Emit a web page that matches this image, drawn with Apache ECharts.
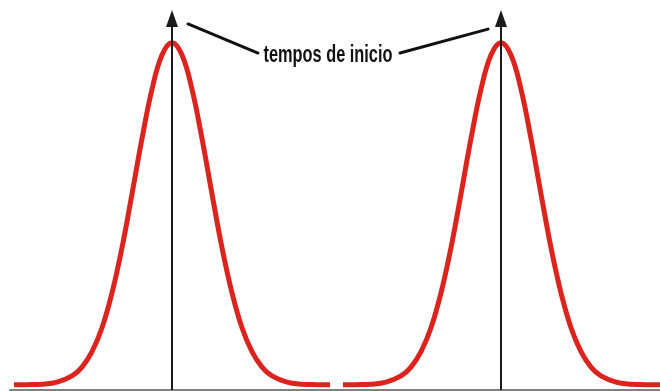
<!DOCTYPE html>
<html>
<head>
<meta charset="utf-8">
<script src="https://cdn.jsdelivr.net/npm/echarts@6/dist/echarts.min.js"></script>
<style>
  html, body { margin: 0; padding: 0; background: #ffffff; }
  #chart { width: 660px; height: 391px; }
</style>
</head>
<body>
<div id="chart"></div>
<script>
// First pulse (time positions and amplitude)
const pulse1X = [14, 27, 42, 57, 72, 82, 92, 102, 112, 122, 132, 142, 152, 162, 172, 182, 192, 202, 212, 222, 232, 242, 252, 262, 272, 287, 302, 317, 330];
const pulse1Y = [1.5, 1.55, 1.7, 2.3, 4.1, 6.7, 11.2, 18.2, 28.4, 41.6, 57.3, 73.5, 87.9, 97.9, 101.5, 97.9, 87.9, 73.5, 57.3, 41.6, 28.4, 18.2, 11.2, 6.7, 4.1, 2.3, 1.7, 1.55, 1.5];

// Second pulse
const pulse2X = [343, 356, 371, 386, 401, 411, 421, 431, 441, 451, 461, 471, 481, 491, 501, 511, 521, 531, 541, 551, 561, 571, 581, 591, 601, 616, 631, 646, 660];
const pulse2Y = [1.5, 1.55, 1.7, 2.3, 4.1, 6.7, 11.2, 18.2, 28.4, 41.6, 57.3, 73.5, 87.9, 97.9, 101.5, 97.9, 87.9, 73.5, 57.3, 41.6, 28.4, 18.2, 11.2, 6.7, 4.1, 2.3, 1.7, 1.55, 1.5];

// Start-time markers (arrow positions and arrow head level)
const startTimes = [172, 501];
const arrowHeadLevel = 108.6;

// Leader lines from the caption to each arrow
const leaderLeftX = [188, 258];
const leaderLeftY = [107.0, 98.5];
const leaderRightX = [400, 488];
const leaderRightY = [98.5, 105.5];

const captionText = 'tempos de inicio';

const zip = (xs, ys) => xs.map((x, i) => [x, ys[i]]);

const RED = '#dc241f';
const INK = '#1a1a1a';

const pulseSeries = (xs, ys) => ({
  type: 'line',
  data: zip(xs, ys),
  smooth: 0.4,
  showSymbol: false,
  symbol: 'none',
  lineStyle: { color: RED, width: 5, cap: 'butt' },
  z: 2
});

const arrowSeries = (t) => ({
  type: 'line',
  data: [
    { value: [t, 0], symbol: 'none' },
    { value: [t, arrowHeadLevel], symbol: 'triangle', symbolSize: [12, 17] }
  ],
  showSymbol: true,
  lineStyle: { color: INK, width: 2 },
  itemStyle: { color: INK, borderWidth: 0 },
  z: 4
});

const leaderSeries = (xs, ys) => ({
  type: 'line',
  data: zip(xs, ys),
  symbol: 'none',
  lineStyle: { color: '#111111', width: 3, cap: 'round' },
  z: 4
});

const chart = echarts.init(document.getElementById('chart'), null, { renderer: 'canvas' });

chart.setOption({
  animation: false,
  backgroundColor: '#ffffff',
  grid: { left: 10, right: 0, top: 0, bottom: 1 },
  xAxis: {
    type: 'value',
    min: 10,
    max: 660,
    axisLine: { show: true, onZero: false, lineStyle: { color: '#808080', width: 2 } },
    axisTick: { show: false },
    axisLabel: { show: false },
    splitLine: { show: false }
  },
  yAxis: {
    type: 'value',
    min: 0,
    max: 114,
    show: false,
    splitLine: { show: false }
  },
  series: [
    pulseSeries(pulse1X, pulse1Y),
    pulseSeries(pulse2X, pulse2Y),
    arrowSeries(startTimes[0]),
    arrowSeries(startTimes[1]),
    leaderSeries(leaderLeftX, leaderLeftY),
    leaderSeries(leaderRightX, leaderRightY)
  ],
  graphic: [
    {
      type: 'text',
      x: 328,
      y: 56,
      scaleX: 0.71,
      scaleY: 1,
      z: 10,
      style: {
        text: captionText,
        x: 0,
        y: 0,
        font: 'bold 23px "Liberation Sans", Arial, sans-serif',
        fill: '#111111',
        textAlign: 'center',
        textVerticalAlign: 'middle',
        align: 'center',
        verticalAlign: 'middle'
      }
    }
  ]
});
</script>
</body>
</html>
